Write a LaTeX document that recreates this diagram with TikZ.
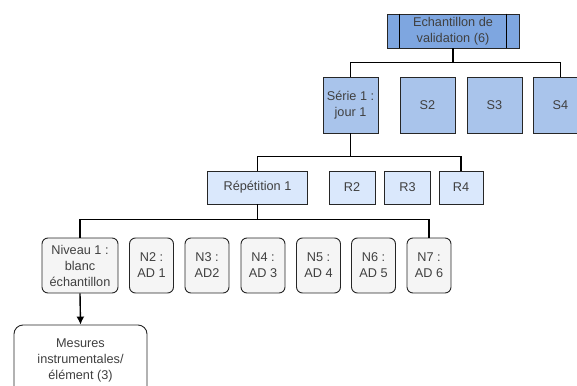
\documentclass[tikz,border=0pt]{standalone}
\usepackage{fontspec}
\setmainfont{Liberation Sans}
\usetikzlibrary{arrows.meta}
\definecolor{topblue}{HTML}{7EA6E0}
\definecolor{serieblue}{HTML}{A9C4EB}
\definecolor{repblue}{HTML}{DAE8FC}
\definecolor{nivgray}{HTML}{F5F5F5}
\begin{document}
\begin{tikzpicture}[x=1pt, y=-1pt, font=\fontsize{12.7}{16}\selectfont,
    box/.style={draw=black!85, line width=0.9pt, align=center, inner sep=0pt, text=black!75},
    serie/.style={box, fill=serieblue, minimum width=55pt, minimum height=56pt},
    rep/.style={box, fill=repblue, minimum height=33pt},
    niv/.style={box, fill=nivgray, rounded corners=6pt, minimum width=44pt, minimum height=55pt},
    link/.style={line width=1.8pt}]
    \useasboundingbox (0,0) rectangle (577,385);
    \clip (0,0) rectangle (577,385);
    % top
    \node[box, fill=topblue, minimum width=132pt, minimum height=34pt] (ech) at (453,31)
        {Echantillon de\\validation (6)};
    \draw[line width=0.9pt] ([xshift=13pt]ech.north west) -- ([xshift=13pt]ech.south west);
    \draw[line width=0.9pt] ([xshift=-13pt]ech.north east) -- ([xshift=-13pt]ech.south east);
    % series
    \node[serie] (s1) at (350.5,105) {Série 1 :\\jour 1};
    \node[serie] (s2) at (427.5,105) {S2};
    \node[serie] (s3) at (494.5,105) {S3};
    \node[serie] (s4) at (560.5,105) {S4};
    % repetitions
    \node[rep, minimum width=100pt] (r1) at (257.5,187.5) {Répétition 1};
    \node[rep, minimum width=46pt] (r2) at (352,187.5) {R2};
    \node[rep, minimum width=46pt] (r3) at (407.5,187.5) {R3};
    \node[rep, minimum width=44pt] (r4) at (461,187.5) {R4};
    % niveaux
    \node[niv, minimum width=76pt] (n1) at (80,265.5) {Niveau 1 :\\blanc\\échantillon};
    \node[niv] (n2) at (151.5,265.5) {N2 :\\AD 1};
    \node[niv] (n3) at (207,265.5) {N3 :\\AD2};
    \node[niv] (n4) at (263,265.5) {N4 :\\AD 3};
    \node[niv] (n5) at (318.5,265.5) {N5 :\\AD 4};
    \node[niv] (n6) at (373.5,265.5) {N6 :\\AD 5};
    \node[niv] (n7) at (429,265.5) {N7 :\\AD 6};
    \node[box, fill=white, rounded corners=9pt, minimum width=133pt, minimum height=70pt] (mes)
        at (80.5,360) {Mesures\\instrumentales/\\élément (3)};
    % connectors
    \draw[link] (ech.south) -- ++(0,14) coordinate (sj) -| (s1.north);
    \draw[link] (sj) -| (s4.north);
    \draw[link] (s1.south) -- ++(0,23) coordinate (rj) -| (r1.north);
    \draw[link] (rj) -| (r4.north);
    \draw[link] (r1.south) -- ++(0,15) coordinate (nj) -| (n1.north);
    \draw[link] (nj) -| (n7.north);
    \draw[line width=1.4pt, -{Latex[length=8pt,width=8pt]}] (n1.south) -- (mes.north);
\end{tikzpicture}
\end{document}
